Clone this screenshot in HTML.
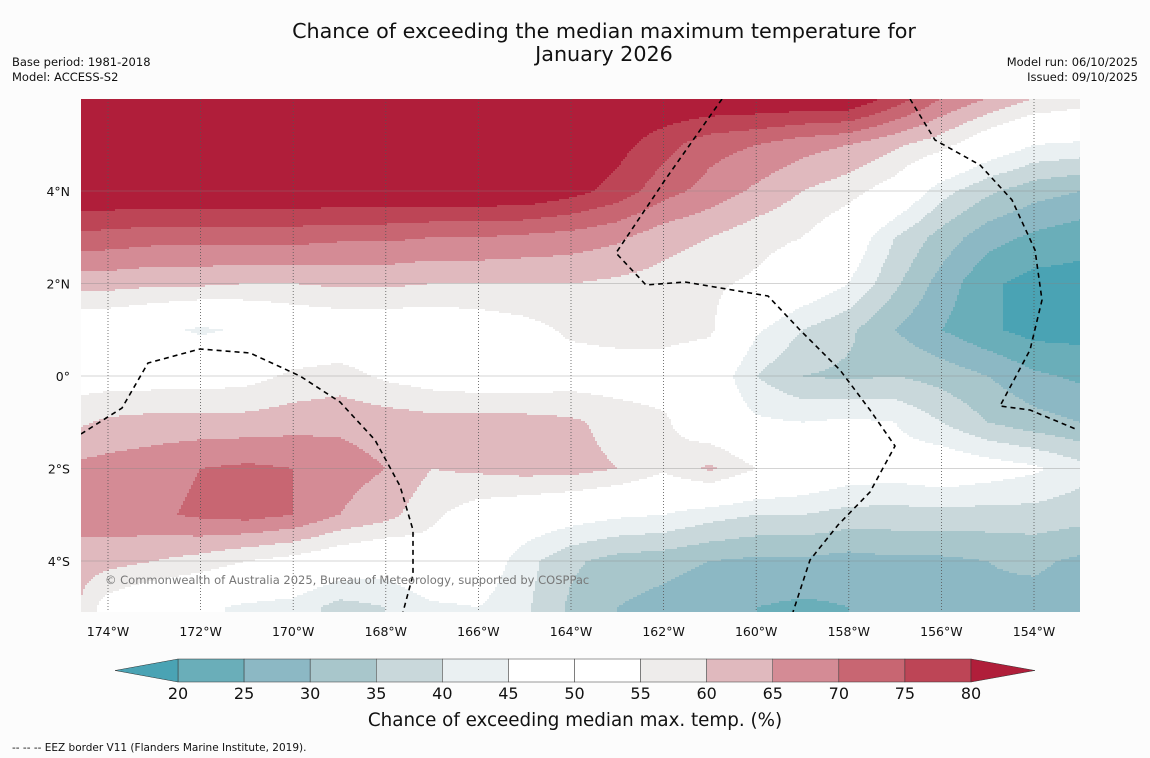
<!DOCTYPE html>
<html><head><meta charset="utf-8"><style>
html,body{margin:0;padding:0;background:#fcfcfc;width:1150px;height:758px;overflow:hidden;font-family:"DejaVu Sans","Liberation Sans",sans-serif;}
</style></head><body>
<svg id="chart" width="1150" height="758" xmlns="http://www.w3.org/2000/svg" font-family="DejaVu Sans, Liberation Sans, sans-serif">
<rect width="1150" height="758" fill="#fcfcfc"/>
<text x="604" y="38" font-size="20.7" text-anchor="middle" fill="#111">Chance of exceeding the median maximum temperature for</text>
<text x="604" y="61" font-size="20.7" text-anchor="middle" fill="#111">January 2026</text>
<text x="12" y="66" font-size="11.5" fill="#111">Base period: 1981-2018</text>
<text x="12" y="81" font-size="11.5" fill="#111">Model: ACCESS-S2</text>
<text x="1138" y="66" font-size="11.5" text-anchor="end" fill="#111">Model run: 06/10/2025</text>
<text x="1138" y="81" font-size="11.5" text-anchor="end" fill="#111">Issued: 09/10/2025</text>
<clipPath id="mapclip"><rect x="81" y="99" width="999" height="513"/></clipPath>
<g id="field" clip-path="url(#mapclip)"></g>
<g id="grid" clip-path="url(#mapclip)"></g>
<g id="eez" clip-path="url(#mapclip)"></g>
<text x="105" y="584" font-size="11.5" fill="#777">© Commonwealth of Australia 2025, Bureau of Meteorology, supported by COSPPac</text>
<g id="axes"></g>
<g id="cbar"></g>
<text x="575" y="726" font-size="18.3" text-anchor="middle" fill="#111">Chance of exceeding median max. temp. (%)</text>
<text x="12" y="751" font-size="10.5" fill="#111">--  --  -- EEZ border V11 (Flanders Marine Institute, 2019).</text>
</svg>
<script>
const lons=[-175,-174,-173,-172,-171,-170,-169,-168,-167,-166,-165,-164,-163,-162,-161,-160,-159,-158,-157,-156,-155,-154,-153];
const lats=[6,5,4,3,2,1,0,-1,-2,-3,-4,-5];
const row6=[85,85,85,85,85,85,85,85,85,85,85,85,85,85,85,85,85,85,78,70,65,60,58];
const row5=[85,85,85,85,85,85,85,85,85,85,85,85,82,77,72,70,67,65,61,57,50,45,44];
const row4=[85,85,85,85,85,85,85,85,85,85,85,82,78,72,68,64,60,57,52,42,36,32,30];
const row3=[74,73,72,72,72,72,71,71,70,70,69,68,66,62,60,57,55,50,40,33,27,24,22];
const row2=[62,62,61,61,60,60,61,61,60,60,60,60,59,58,56,54,50,45,36,28,21,18,18];
const row1=[50,49,47,44,46,49,50,50,50,51,53,56,57,57,56,46,40,36,30,25,21,18,18];
const row0=[52,52,52,52,53,56,57,54,52,51,51,52,52,52,50,40,35,34,35,33,30,26,24];
const rowS1=[58,61,62,62,62,63,64,63,62,62,62,61,58,56,50,46,45,46,45,40,35,32,30];
const rowS2=[66,67,68,70,71,70,67,65,60,61,62,62,60,56,61,55,52,49,48,50,48,46,42];
const rowS3=[67,68,69,71,72,70,65,62,56,52,50,48,46,45,42,40,40,38,38,38,38,38,37];
const rowS4=[63,62,60,58,55,53,50,48,52,50,42,36,33,32,30,29,29,28,29,29,30,31,29];
const rowS5=[64,52,48,46,44,43,38,40,44,45,41,34,30,28,26,25,24,25,27,28,29,28,27];
const levels=[20,25,30,35,40,45,50,55,60,65,70,75,80];
const colors=["#4aa3b4","#6aaeb9","#8cb8c4","#a8c6cb","#c9d8db","#eaf0f2","#ffffff","#ffffff","#eeeceb","#e0b9be","#d48b95","#c86672","#bd4556","#b01e3a"];
const lonTicks=[-174,-172,-170,-168,-166,-164,-162,-160,-158,-156,-154];
const latTicks=[4,2,0,-2,-4];
const tickLabels=["20","25","30","35","40","45","50","55","60","65","70","75","80"];
const grid=[row6,row5,row4,row3,row2,row1,row0,rowS1,rowS2,rowS3,rowS4,rowS5];
const NS="http://www.w3.org/2000/svg";
function X(lon){return 108+(lon+174)*46.3;}
function Y(lat){return 376-lat*46.25;}
function lonOf(x){return (x-108)/46.3-174;}
function latOf(y){return (376-y)/46.25;}
function mk(tag,attrs,parent){const e=document.createElementNS(NS,tag);for(const k in attrs)e.setAttribute(k,attrs[k]);parent.appendChild(e);return e;}
function val(lon,lat){
  let fi=(lon-lons[0]);let fj=(lats[0]-lat);
  fi=Math.max(0,Math.min(lons.length-1.001,fi));fj=Math.max(0,Math.min(lats.length-1.001,fj));
  const i=Math.floor(fi),j=Math.floor(fj),a=fi-i,b=fj-j;
  return grid[j][i]*(1-a)*(1-b)+grid[j][i+1]*a*(1-b)+grid[j+1][i]*(1-a)*b+grid[j+1][i+1]*a*b;
}
function lvl(v){let k=0;while(k<levels.length&&v>=levels[k])k++;return k;}
const field=document.getElementById('field');
const step=2;
for(let y=99;y<612;y+=step){
  let start=81,cur=lvl(val(lonOf(81),latOf(y+step/2)));
  for(let x=81+step;x<=1080+step;x+=step){
    const c=x>1080?-1:lvl(val(lonOf(x+step/2),latOf(y+step/2)));
    if(c!==cur){
      const r=mk('rect',{x:start,y:y,width:x-start+0.5,height:step+0.5,fill:colors[cur]},field);
      
      
      start=x;cur=c;
    }
  }
}
const g=document.getElementById('grid');
lonTicks.forEach(l=>{const e=mk('line',{x1:X(l),x2:X(l),y1:99,y2:612,stroke:'#555','stroke-width':0.8,'stroke-dasharray':'1,2'},g);});
latTicks.forEach(l=>{const e=mk('line',{x1:81,x2:1080,y1:Y(l),y2:Y(l),stroke:'#888','stroke-width':0.6,'stroke-opacity':0.7},g);});
const eez=document.getElementById('eez');
const paths=["M81,434 L122,408 L148,363 L200,349 L250,353 L300,376 L340,402 L375,440 L400,486 L413,530 L413,575 L403,612",
"M722,99 L665,180 L616,253 L646,285 L685,282 L768,296 L800,330 L840,370 L870,410 L895,446 L870,492 L838,525 L810,560 L793,612",
"M910,99 L935,140 L980,165 L1012,200 L1035,250 L1042,300 L1030,350 L1000,406 L1030,410 L1078,430"];
paths.forEach(d=>{const e=mk('path',{d:d,fill:'none',stroke:'#000','stroke-width':1.6,'stroke-dasharray':'5,4'},eez);});
const ax=document.getElementById('axes');
lonTicks.forEach(l=>{const t=mk('text',{x:X(l),y:636,'font-size':12.5,'text-anchor':'middle',fill:'#111'},ax);t.textContent=Math.abs(l)+'°W';});
latTicks.forEach(l=>{const t=mk('text',{x:70,y:Y(l)+5,'font-size':12.5,'text-anchor':'end',fill:'#111'},ax);t.textContent=l===0?'0°':Math.abs(l)+'°'+(l>0?'N':'S');});
const cb=document.getElementById('cbar');
function CX(v){return 178+(v-20)*(793/60);}
const y0=659,y1=682;
for(let k=0;k<levels.length-1;k++){const r=mk('rect',{x:CX(levels[k]),y:y0,width:CX(levels[k+1])-CX(levels[k]),height:y1-y0,fill:colors[k+1],stroke:'#333','stroke-width':0.5},cb);}
const tl=mk('polygon',{points:`${CX(20)},${y0} 115,${(y0+y1)/2} ${CX(20)},${y1}`,fill:colors[0],stroke:'#333','stroke-width':0.5},cb);
const tr=mk('polygon',{points:`${CX(80)},${y0} 1035,${(y0+y1)/2} ${CX(80)},${y1}`,fill:colors[13],stroke:'#333','stroke-width':0.5},cb);
levels.forEach((v,i)=>{const t=mk('text',{x:CX(v),y:699,'font-size':16,'text-anchor':'middle',fill:'#111'},cb);t.textContent=tickLabels[i];});
</script>
</body></html>
